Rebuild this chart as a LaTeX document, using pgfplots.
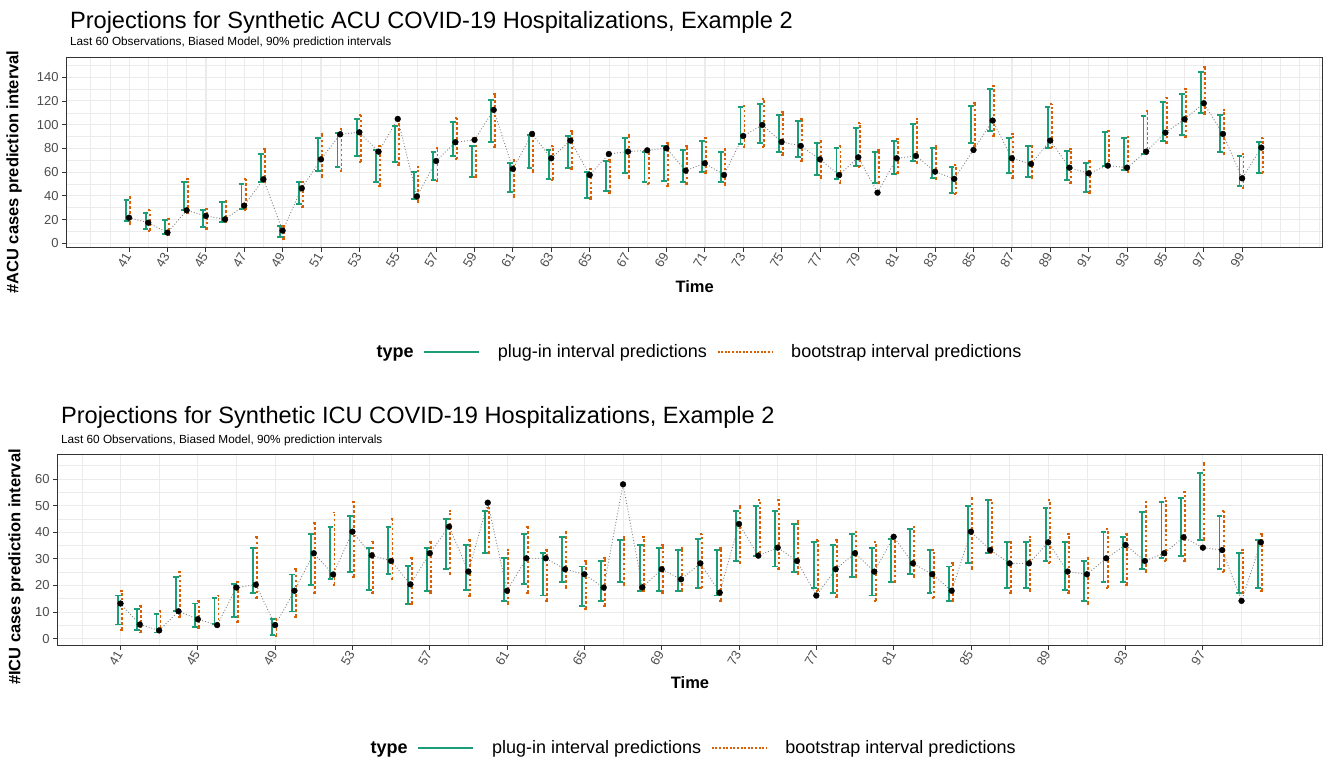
\documentclass[border=0pt]{standalone}
\usepackage{fontspec}
\setmainfont{Liberation Sans}
\usepackage{pgfplots}
\pgfplotsset{compat=1.18}
\usepackage{pgfplotstable}

\definecolor{cgreen}{HTML}{1B9E77}
\definecolor{corange}{HTML}{D95F02}
\definecolor{gridc}{HTML}{EBEBEB}
\definecolor{framec}{HTML}{333333}
\definecolor{tickc}{HTML}{4D4D4D}

% t = time, obs = observed, plo/phi = plug-in interval, blo/bhi = bootstrap interval
\pgfplotstableread{
t obs plo phi blo bhi
41 21.6 18.6 36.5 16.6 39.4
42 17.4 11.8 25.3 10.4 28.1
43 9.0 7.9 20.0 7.0 20.2
44 27.8 27.8 51.4 25.9 54.0
45 23.1 13.5 28.4 11.8 29.2
46 20.2 18.3 34.9 17.7 35.7
47 31.8 28.7 49.8 27.8 54.0
48 54.0 52.0 75.6 51.4 79.3
49 10.7 5.1 14.9 3.7 14.9
50 46.4 32.9 51.7 30.4 51.4
51 70.8 61.0 88.6 56.2 92.2
52 91.9 64.7 92.8 61.0 96.4
53 93.6 73.9 104.6 68.9 108.2
54 77.3 51.4 78.7 48.4 82.4
55 104.9 68.9 99.0 66.1 103.2
56 39.6 37.1 60.4 35.1 64.1
57 69.4 53.4 77.3 52.6 80.1
58 85.2 73.7 102.6 70.8 105.4
59 87.2 56.2 82.4 56.2 88.6
60 112.5 85.2 120.9 81.5 126.0
61 62.7 43.0 67.5 39.4 70.3
62 92.2 63.8 91.4 60.4 94.2
63 71.7 54.0 78.7 53.4 82.4
64 86.6 63.8 90.5 62.7 94.7
65 57.6 38.5 60.4 37.4 62.7
66 75.3 44.4 69.4 42.7 70.3
67 77.3 59.6 88.6 55.4 91.4
68 78.4 51.4 77.3 49.8 78.7
69 80.1 52.6 82.1 48.4 84.3
70 61.3 51.4 78.7 49.8 82.1
71 67.5 60.4 86.6 59.6 89.1
72 57.6 51.4 77.3 49.2 79.3
73 90.5 83.5 114.7 81.5 115.8
74 99.8 84.9 117.5 81.5 121.5
75 85.5 77.3 108.2 74.5 110.5
76 82.1 72.5 103.2 69.4 104.9
77 70.8 57.6 84.9 55.4 86.6
78 57.6 54.0 80.7 51.2 82.4
79 72.5 65.2 97.0 64.1 101.8
80 42.7 50.6 76.8 50.6 78.7
81 71.7 58.5 86.6 59.0 87.7
82 73.7 69.4 100.4 67.5 104.9
83 60.4 55.4 80.7 54.0 82.1
84 54.3 42.7 64.1 41.3 66.1
85 78.7 84.3 116.1 82.4 118.6
86 103.5 94.7 129.9 90.5 132.7
87 71.7 59.0 88.6 55.4 92.2
88 66.9 56.2 82.1 55.4 82.4
89 86.6 80.7 114.7 80.1 117.5
90 63.8 53.4 78.2 50.6 79.3
91 59.0 43.6 67.5 42.7 69.4
92 65.5 65.5 93.6 64.7 95.0
93 63.8 61.9 88.6 59.9 90.0
94 77.3 75.3 107.7 75.1 111.6
95 93.3 86.3 119.5 84.3 122.9
96 104.6 91.4 125.7 89.4 129.9
97 118.1 109.6 144.2 109.1 149.0
98 92.2 76.8 108.2 75.1 112.5
99 54.8 48.4 73.7 46.9 75.3
100 80.7 59.0 85.2 59.0 88.6
}\acu

\pgfplotstableread{
t obs plo phi blo bhi
41 13.2 5.3 16.2 3.3 18.0
42 5.3 3.1 11.2 2.3 12.4
43 3.1 2.3 9.3 2.3 10.4
44 10.3 10.3 23.3 8.3 25.2
45 7.3 4.3 13.2 4.1 14.3
46 5.1 5.6 15.3 5.1 16.2
47 19.2 8.3 20.7 6.1 21.2
48 20.3 17.0 34.1 15.2 38.1
49 5.1 1.4 7.3 1.1 7.3
50 18.0 10.2 24.1 8.3 26.2
51 32.1 20.2 39.3 17.0 43.4
52 24.1 22.3 42.1 20.2 47.4
53 40.2 25.2 46.2 23.3 51.3
54 31.3 18.3 34.0 17.0 36.5
55 29.2 24.2 42.1 22.3 45.0
56 20.4 13.0 27.3 13.0 30.2
57 32.1 18.0 34.0 17.3 36.2
58 42.1 26.2 45.0 24.2 48.0
59 25.2 18.3 35.2 16.0 37.1
60 51.1 32.1 48.1 32.1 49.2
61 18.0 14.3 30.2 13.0 33.3
62 30.2 20.4 39.3 17.3 42.1
63 30.2 16.2 32.1 14.3 33.3
64 26.1 21.2 38.1 19.2 40.2
65 24.2 12.4 27.1 11.2 29.2
66 19.2 14.3 29.2 12.4 30.2
67 58.0 21.2 37.1 20.2 38.1
68 19.3 18.0 35.2 18.0 38.1
69 26.1 18.0 34.2 17.3 35.2
70 22.3 18.0 33.3 18.0 34.2
71 28.3 19.2 37.3 18.9 39.3
72 17.3 16.2 33.3 14.2 34.0
73 43.1 29.2 48.1 28.3 50.0
74 31.2 31.2 50.0 32.1 52.1
75 34.2 27.1 48.1 26.1 52.1
76 29.2 25.2 43.1 24.3 44.2
77 16.2 19.2 36.2 18.0 37.1
78 26.1 17.3 35.2 15.8 37.1
79 32.1 23.3 39.3 23.3 40.2
80 25.2 16.2 34.2 14.2 36.2
81 38.3 21.2 37.3 21.2 38.1
82 28.3 24.2 41.2 23.3 42.1
83 24.2 17.3 33.3 15.2 33.3
84 18.0 14.3 27.1 14.3 28.3
85 40.2 28.3 50.0 26.2 53.0
86 33.3 32.1 52.1 32.1 52.1
87 28.3 19.2 36.2 17.3 36.2
88 28.3 19.2 36.2 18.0 38.1
89 36.2 29.2 49.2 28.3 52.1
90 25.2 18.3 36.2 17.3 39.2
91 24.2 14.3 29.2 13.0 30.2
92 30.2 21.2 40.2 19.2 41.2
93 35.2 21.2 38.1 20.2 39.2
94 29.2 26.2 47.5 25.2 51.3
95 32.1 30.2 51.3 29.2 53.0
96 38.1 31.2 53.0 29.2 55.0
97 34.2 37.1 62.2 37.1 65.9
98 33.3 26.2 46.2 25.2 48.1
99 14.2 17.3 32.1 17.0 33.3
100 36.2 19.2 37.1 18.0 39.2
}\icu

\pgfplotsset{
  panel/.style={
    scale only axis, anchor=north west,
    xmin=37.75, xmax=103.2,
    axis line style={framec, line width=0.8pt},
    grid=both,
    major grid style={gridc, line width=1pt},
    minor grid style={gridc, line width=0.6pt},
    tick pos=left, tick align=outside,
    major tick length=4.5pt, minor tick length=0pt,
    tick style={framec, line width=0.8pt},
    ticklabel style={font=\fontsize{13}{13}\selectfont, text=tickc},
    xticklabel style={rotate=60, anchor=east, inner sep=2pt},
    /pgf/number format/assume math mode=true,
    legend columns=-1,
    legend style={draw=none, fill=none, anchor=center,
      font=\fontsize{18}{18}\selectfont,
      /tikz/every odd column/.append style={column sep=16pt},
      /tikz/every even column/.append style={column sep=8pt}},
    legend image code/.code={\draw[##1] (0pt,0pt) -- (55pt,0pt);},
  },
  % plug-in interval: solid green bar with caps
  gbar/.style={forget plot, draw=cgreen, line width=1.9pt, solid, mark=none,
    quiver/every arrow/.append style={draw=cgreen}},
  % bootstrap interval: dotted orange bar with small caps
  obar/.style={forget plot, draw=corange, line width=1.9pt, dash pattern=on 2.6pt off 2.3pt, mark=none,
    quiver/every arrow/.append style={draw=corange}},
}

\begin{document}
\begin{tikzpicture}
\path[use as bounding box, fill=white] (0pt,0pt) rectangle (1326pt,761pt);

% ---- ACU panel
\node[anchor=base west, font=\fontsize{23.6}{23.6}\selectfont] at (66.5pt,732pt) {Projections for Synthetic ACU COVID-19 Hospitalizations, Example 2};
\node[anchor=base west, font=\fontsize{11.8}{11.8}\selectfont] at (66.5pt,715.5pt) {Last 60 Observations, Biased Model, 90\% prediction intervals};
\node[rotate=90, font=\bfseries\fontsize{16.5}{16.5}\selectfont] at (14pt,589pt) {\#ACU cases prediction interval};
\node[font=\bfseries\fontsize{16.5}{16.5}\selectfont] at (694.7pt,474pt) {Time};

\begin{axis}[panel, at={(66.7pt,703.3pt)}, width=1256pt, height=190pt,
  ymin=-3.7, ymax=156.5,
  xtick={41,43,...,99}, minor xtick={39,40,...,103},
  ytick={0,20,...,140}, minor ytick={10,30,...,150},
  legend style={at={(0.497,-0.549)}}]
\addlegendimage{empty legend}
\addlegendentry{\textbf{type}}
\addlegendimage{cgreen, line width=1.3pt}
\addlegendentry{plug-in interval predictions}
\addlegendimage{corange, line width=1.3pt, dash pattern=on 2pt off 1.6pt}
\addlegendentry{bootstrap interval predictions}
\addplot[forget plot, gray, dotted, line width=0.9pt] table[x=t, y=obs] {\acu};
\addplot[gbar, quiver={u=0, v=\thisrow{phi}-\thisrow{plo}}] table[x expr=\thisrow{t}-0.14, y=plo] {\acu};
\addplot[gbar, quiver={u=0.3, v=0}] table[x expr=\thisrow{t}-0.29, y=plo] {\acu};
\addplot[gbar, quiver={u=0.3, v=0}] table[x expr=\thisrow{t}-0.29, y=phi] {\acu};
\addplot[obar, quiver={u=0, v=\thisrow{bhi}-\thisrow{blo}}] table[x expr=\thisrow{t}+0.07, y=blo] {\acu};
\addplot[obar, solid, quiver={u=0.13, v=0}] table[x expr=\thisrow{t}-0.02, y=blo] {\acu};
\addplot[obar, solid, quiver={u=0.13, v=0}] table[x expr=\thisrow{t}-0.02, y=bhi] {\acu};
\addplot[forget plot, only marks, mark=*, mark size=2.9pt, black] table[x=t, y=obs] {\acu};
\end{axis}

% ---- ICU panel
\node[anchor=base west, font=\fontsize{23.6}{23.6}\selectfont] at (57.5pt,337pt) {Projections for Synthetic ICU COVID-19 Hospitalizations, Example 2};
\node[anchor=base west, font=\fontsize{11.8}{11.8}\selectfont] at (57.5pt,317pt) {Last 60 Observations, Biased Model, 90\% prediction intervals};
\node[rotate=90, font=\bfseries\fontsize{16.5}{16.5}\selectfont] at (16pt,194pt) {\#ICU cases prediction interval};
\node[font=\bfseries\fontsize{16.5}{16.5}\selectfont] at (690pt,78pt) {Time};

\begin{axis}[panel, at={(57.7pt,307pt)}, width=1265pt, height=191.3pt,
  ymin=-2.5, ymax=69.4,
  xtick={41,45,...,97}, minor xtick={39,43,...,103},
  ytick={0,10,...,60}, minor ytick={5,15,...,65},
  legend style={at={(0.496,-0.537)}}]
\addlegendimage{empty legend}
\addlegendentry{\textbf{type}}
\addlegendimage{cgreen, line width=1.3pt}
\addlegendentry{plug-in interval predictions}
\addlegendimage{corange, line width=1.3pt, dash pattern=on 2pt off 1.6pt}
\addlegendentry{bootstrap interval predictions}
\addplot[forget plot, gray, dotted, line width=0.9pt] table[x=t, y=obs] {\icu};
\addplot[gbar, quiver={u=0, v=\thisrow{phi}-\thisrow{plo}}] table[x expr=\thisrow{t}-0.14, y=plo] {\icu};
\addplot[gbar, quiver={u=0.3, v=0}] table[x expr=\thisrow{t}-0.29, y=plo] {\icu};
\addplot[gbar, quiver={u=0.3, v=0}] table[x expr=\thisrow{t}-0.29, y=phi] {\icu};
\addplot[obar, quiver={u=0, v=\thisrow{bhi}-\thisrow{blo}}] table[x expr=\thisrow{t}+0.07, y=blo] {\icu};
\addplot[obar, solid, quiver={u=0.13, v=0}] table[x expr=\thisrow{t}-0.02, y=blo] {\icu};
\addplot[obar, solid, quiver={u=0.13, v=0}] table[x expr=\thisrow{t}-0.02, y=bhi] {\icu};
\addplot[forget plot, only marks, mark=*, mark size=2.9pt, black] table[x=t, y=obs] {\icu};
\end{axis}
\end{tikzpicture}
\end{document}
